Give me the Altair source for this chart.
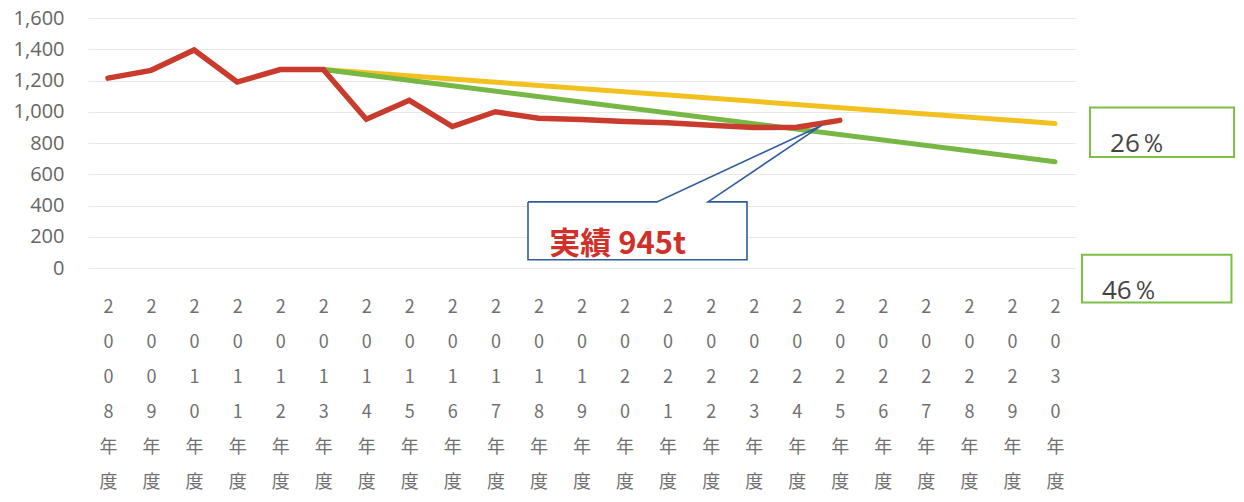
import altair as alt
import pandas as pd

# ---- data ----
years = list(range(2008, 2031))
actual_years = list(range(2008, 2026))
actual = [1215, 1265, 1395, 1190, 1270, 1270, 952, 1073, 905, 1000, 958, 950,
          937, 930, 913, 899, 901, 945]
target26_years = [2013, 2030]
target26 = [1270, 925]
target46_years = [2013, 2030]
target46 = [1270, 680]
y_ticks = [0, 200, 400, 600, 800, 1000, 1200, 1400, 1600]

RED = "#C93B2C"
YELLOW = "#F2C11F"
GREEN = "#77B743"
BLUE = "#2E5C9E"
BOXGREEN = "#7DBF45"

df_act = pd.DataFrame({"x": actual_years, "y": actual})
df_26 = pd.DataFrame({"x": target26_years, "y": target26})
df_46 = pd.DataFrame({"x": target46_years, "y": target46})

xscale = alt.Scale(domain=[2007.535, 2030.465], nice=False, zero=False)
yscale = alt.Scale(domain=[0, 1600], nice=False)

x_axis = alt.Axis(
    values=years, title=None, grid=False, domain=False, ticks=False,
    labelExpr="split(toString(datum.value) + '年度', '')",
    labelFont="Noto Sans CJK JP", labelFontSize=18, labelColor="#707070",
    labelLineHeight=35, labelPadding=30, labelBaseline="top",
    labelAngle=0, labelOverlap=False, labelFlush=False,
)
y_axis = alt.Axis(
    values=y_ticks, title=None, format=",d", grid=True, gridColor="#e8e8e8",
    gridWidth=1, domain=False, ticks=False, labelFont="Open Sans",
    labelFontSize=20, labelColor="#666666", labelPadding=24,
    labelOverlap=False, labelFlush=False,
)


def X():
    return alt.X("x:Q", scale=xscale, axis=x_axis)


def Y():
    return alt.Y("y:Q", scale=yscale, axis=y_axis)


line26 = alt.Chart(df_26).mark_line(color=YELLOW, strokeWidth=5, strokeCap="round").encode(
    x=X(), y=Y())
line46 = alt.Chart(df_46).mark_line(color=GREEN, strokeWidth=5, strokeCap="round").encode(
    x=X(), y=Y())
line_act = alt.Chart(df_act).mark_line(color=RED, strokeWidth=5.5, strokeCap="round",
                                       strokeJoin="miter").encode(x=X(), y=Y())

# ---- callout (in data coordinates) ----
call_x1, call_x2 = 2017.757, 2022.845
call_y1, call_y2 = 423, 53
gap_a, gap_b = 2020.754, 2021.939
tip_x, tip_y = 2024.587, 914

df_fill = pd.DataFrame({"x": [call_x1], "x2": [call_x2], "y": [call_y1], "y2": [call_y2]})
call_fill = alt.Chart(df_fill).mark_rect(fill="white").encode(
    x=X(), x2="x2:Q", y=Y(), y2="y2:Q")

df_outline = pd.DataFrame({
    "x": [call_x1, gap_a, tip_x, gap_b, call_x2, call_x2, call_x1, call_x1],
    "y": [call_y1, call_y1, tip_y, call_y1, call_y1, call_y2, call_y2, call_y1],
    "o": list(range(8)),
})
call_outline = alt.Chart(df_outline).mark_line(color=BLUE, strokeWidth=1.6,
                                               strokeJoin="miter").encode(
    x=X(), y=Y(), order="o:Q")

df_calltext = pd.DataFrame({"x": [2018.25], "y": [88], "t": ["実績 945t"]})
call_text = alt.Chart(df_calltext).mark_text(
    align="left", baseline="alphabetic", font="Noto Sans CJK JP", fontWeight="bold",
    fontSize=31, color="#D0302A").encode(x=X(), y=Y(), text="t:N")

# ---- percentage boxes ----
df_boxes = pd.DataFrame({
    "x": [2030.813, 2030.627], "x2": [2034.16, 2034.10],
    "y": [1028, 85], "y2": [710, -221],
})
boxes = alt.Chart(df_boxes).mark_rect(fill="white", stroke=BOXGREEN, strokeWidth=2).encode(
    x=X(), x2="x2:Q", y=Y(), y2="y2:Q")

df_pct = pd.DataFrame({"x": [2031.28, 2031.09], "y": [745, -200], "t": ["26％", "46％"]})
pct_text = alt.Chart(df_pct).mark_text(
    align="left", baseline="alphabetic", font="Open Sans", fontSize=26,
    color="#444444").encode(x=X(), y=Y(), text="t:N")

chart = alt.layer(
    line26, line46, line_act, call_fill, call_outline, call_text, boxes, pct_text
).properties(
    width=987, height=250,
    autosize=alt.AutoSizeParams(type="none"),
    padding={"left": 80, "top": 10, "right": 161, "bottom": 226},
).configure_view(stroke=None)

chart.save("out.html", embed_options={"renderer": "svg", "actions": False})
